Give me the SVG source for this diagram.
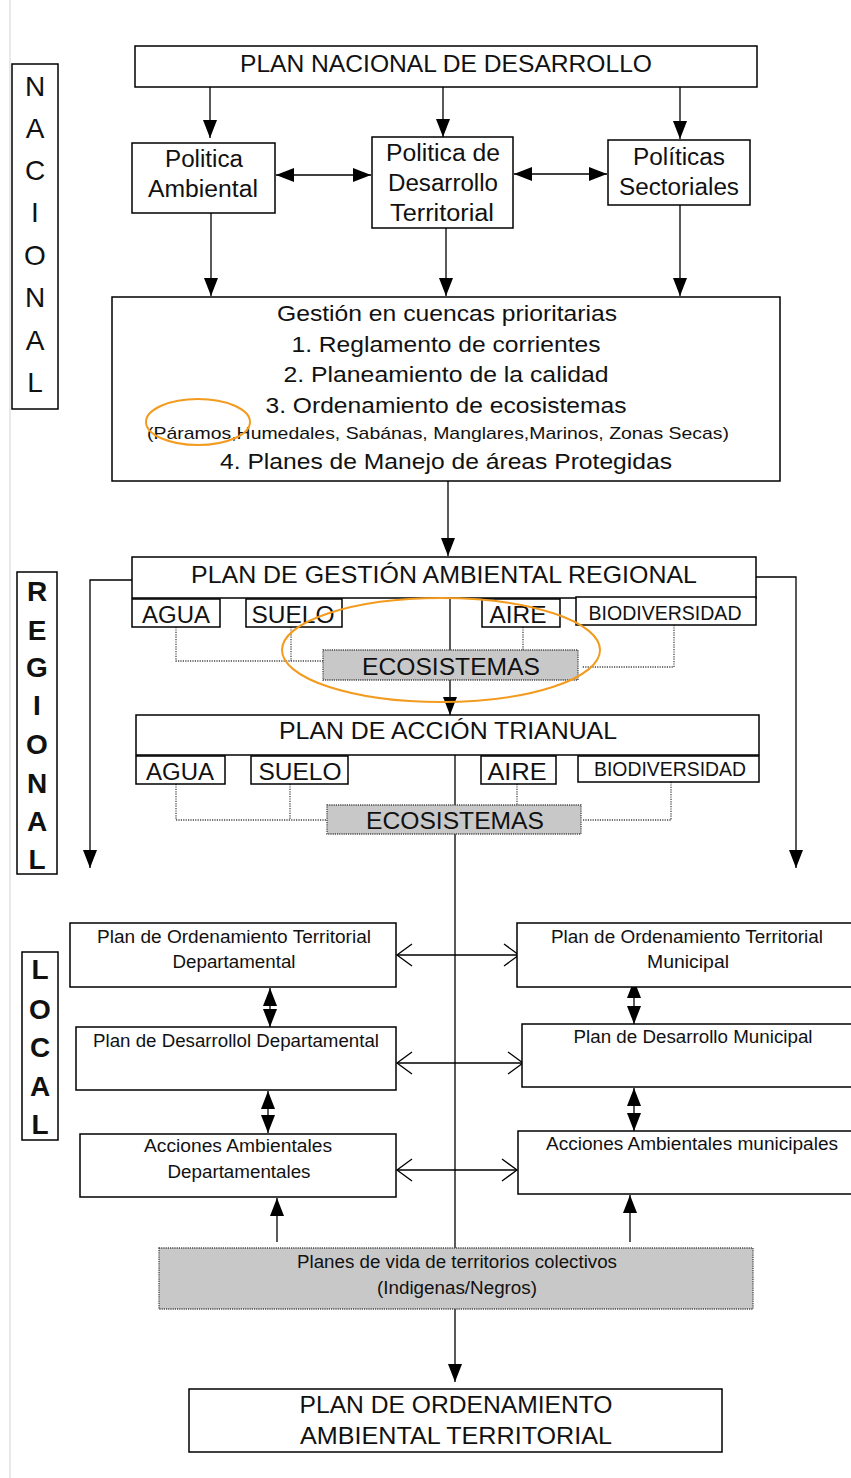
<svg xmlns="http://www.w3.org/2000/svg" width="851" height="1478" viewBox="0 0 851 1478">
<style>
.box{fill:#fff;stroke:#000;stroke-width:1.5}
.gbox{fill:#c8c8c8;stroke:#444;stroke-width:1.3;stroke-dasharray:1.2 1}
.t{font-family:"Liberation Sans",Arial,sans-serif;fill:#111;text-anchor:middle}
.lb{font-family:"Liberation Sans",Arial,sans-serif;fill:#111;text-anchor:middle;font-size:28px}
.bold{font-weight:bold}
.ln{stroke:#000;stroke-width:1.3;fill:none}
.dot{stroke:#444;stroke-width:1.3;fill:none;stroke-dasharray:1.2 1.2}
.orange{fill:none;stroke:#f39b1f;stroke-width:2}
</style>
<defs>
<marker id="ah" markerUnits="userSpaceOnUse" markerWidth="20" markerHeight="20" viewBox="0 0 20 20" refX="18" refY="10" orient="auto-start-reverse">
<path d="M0,3 L18,10 L0,17 Z" fill="#000"/>
</marker>
<marker id="oa" markerUnits="userSpaceOnUse" markerWidth="20" markerHeight="24" viewBox="0 0 20 24" refX="17" refY="12" orient="auto-start-reverse">
<path d="M2,1 L17,12 L2,23" fill="none" stroke="#000" stroke-width="1.3"/>
</marker>
</defs>
<rect width="851" height="1478" fill="#fff"/>
<line x1="10" y1="0" x2="10" y2="1478" stroke="#e2e2e2" stroke-width="1.5"/>

<g id="connectors">
<line class="ln" x1="210" y1="87" x2="210" y2="138" marker-end="url(#ah)"/>
<line class="ln" x1="443" y1="87" x2="443" y2="137" marker-end="url(#ah)"/>
<line class="ln" x1="680" y1="87" x2="680" y2="139" marker-end="url(#ah)"/>
<line class="ln" x1="276" y1="175" x2="371" y2="175" marker-start="url(#ah)" marker-end="url(#ah)"/>
<line class="ln" x1="514" y1="174" x2="607" y2="174" marker-start="url(#ah)" marker-end="url(#ah)"/>
<line class="ln" x1="211" y1="213" x2="211" y2="296" marker-end="url(#ah)"/>
<line class="ln" x1="446" y1="228" x2="446" y2="296" marker-end="url(#ah)"/>
<line class="ln" x1="680" y1="205" x2="680" y2="296" marker-end="url(#ah)"/>
<line class="ln" x1="448" y1="481" x2="448" y2="556" marker-end="url(#ah)"/>
<polyline class="ln" points="132,580 90,580 90,868" marker-end="url(#ah)"/>
<polyline class="ln" points="756,577 796,577 796,868" marker-end="url(#ah)"/>
<line class="ln" x1="450" y1="598" x2="450" y2="715" marker-end="url(#ah)"/>
<polyline class="dot" points="176,627 176,661 323,661"/>
<polyline class="dot" points="291,627 291,661"/>
<line class="dot" x1="523" y1="627" x2="523" y2="650"/>
<polyline class="dot" points="674,625 674,667 582,667"/>
<line class="ln" x1="455" y1="755" x2="455" y2="1248"/>
<polyline class="dot" points="176,784 176,820 327,820"/>
<polyline class="dot" points="290,784 290,820"/>
<line class="dot" x1="517" y1="784" x2="517" y2="805"/>
<polyline class="dot" points="671,782 671,820 582,820"/>
<line class="ln" x1="397" y1="955" x2="519" y2="955" marker-start="url(#oa)" marker-end="url(#oa)"/>
<line class="ln" x1="397" y1="1063" x2="523" y2="1063" marker-start="url(#oa)" marker-end="url(#oa)"/>
<line class="ln" x1="397" y1="1170" x2="517" y2="1170" marker-start="url(#oa)" marker-end="url(#oa)"/>
<line class="ln" x1="270" y1="988" x2="270" y2="1027" marker-start="url(#ah)" marker-end="url(#ah)"/>
<line class="ln" x1="268" y1="1091" x2="268" y2="1133" marker-start="url(#ah)" marker-end="url(#ah)"/>
<line class="ln" x1="634" y1="980" x2="634" y2="1024" marker-start="url(#ah)" marker-end="url(#ah)"/>
<line class="ln" x1="634" y1="1088" x2="634" y2="1131" marker-start="url(#ah)" marker-end="url(#ah)"/>
<line class="ln" x1="277" y1="1242" x2="277" y2="1198" marker-end="url(#ah)"/>
<line class="ln" x1="630" y1="1242" x2="630" y2="1195" marker-end="url(#ah)"/>
<line class="ln" x1="455" y1="1309" x2="455" y2="1382" marker-end="url(#ah)"/>
</g>

<g id="nacional-label">
<rect class="box" x="12" y="64" width="46" height="345"/>
<text class="lb" x="35" y="96">N</text>
<text class="lb" x="35" y="138">A</text>
<text class="lb" x="35" y="180">C</text>
<text class="lb" x="35" y="222">I</text>
<text class="lb" x="35" y="265">O</text>
<text class="lb" x="35" y="307">N</text>
<text class="lb" x="35" y="350">A</text>
<text class="lb" x="35" y="392">L</text>
</g>

<g id="plan-nacional">
<rect class="box" x="135" y="46" width="622" height="41"/>
<text class="t" x="446" y="72" font-size="24" textLength="412" lengthAdjust="spacingAndGlyphs">PLAN NACIONAL DE DESARROLLO</text>
</g>
<g id="politica-ambiental">
<rect class="box" x="132" y="143" width="143" height="70"/>
<text class="t" x="204" y="167" font-size="23" textLength="78" lengthAdjust="spacingAndGlyphs">Politica</text>
<text class="t" x="203" y="197" font-size="23" textLength="110" lengthAdjust="spacingAndGlyphs">Ambiental</text>
</g>
<g id="politica-desarrollo">
<rect class="box" x="372" y="137" width="141" height="91"/>
<text class="t" x="443" y="161" font-size="23" textLength="114" lengthAdjust="spacingAndGlyphs">Politica de</text>
<text class="t" x="443" y="191" font-size="23" textLength="110" lengthAdjust="spacingAndGlyphs">Desarrollo</text>
<text class="t" x="442" y="221" font-size="23" textLength="104" lengthAdjust="spacingAndGlyphs">Territorial</text>
</g>
<g id="politicas-sectoriales">
<rect class="box" x="608" y="140" width="142" height="65"/>
<text class="t" x="679" y="165" font-size="23" textLength="92" lengthAdjust="spacingAndGlyphs">Políticas</text>
<text class="t" x="679" y="195" font-size="23" textLength="120" lengthAdjust="spacingAndGlyphs">Sectoriales</text>
</g>
<g id="gestion-cuencas">
<rect class="box" x="112" y="297" width="668" height="184"/>
<text class="t" x="447" y="321" font-size="22" textLength="340" lengthAdjust="spacingAndGlyphs">Gestión en cuencas prioritarias</text>
<text class="t" x="446" y="352" font-size="22" textLength="309" lengthAdjust="spacingAndGlyphs">1. Reglamento de corrientes</text>
<text class="t" x="446" y="382" font-size="22" textLength="325" lengthAdjust="spacingAndGlyphs">2. Planeamiento de la calidad</text>
<text class="t" x="446" y="413" font-size="22" textLength="361" lengthAdjust="spacingAndGlyphs">3. Ordenamiento de ecosistemas</text>
<text class="t" x="438" y="439" font-size="17" textLength="582" lengthAdjust="spacingAndGlyphs">(Páramos,Humedales, Sabánas, Manglares,Marinos, Zonas Secas)</text>
<text class="t" x="446" y="469" font-size="22" textLength="452" lengthAdjust="spacingAndGlyphs">4. Planes de Manejo de áreas Protegidas</text>
<ellipse class="orange" cx="198" cy="422" rx="52" ry="23"/>
</g>

<g id="regional-label">
<rect class="box" x="17" y="572" width="40" height="302"/>
<text class="lb bold" x="37" y="601" font-size="26">R</text>
<text class="lb bold" x="37" y="640" font-size="26">E</text>
<text class="lb bold" x="37" y="677" font-size="26">G</text>
<text class="lb bold" x="37" y="715" font-size="26">I</text>
<text class="lb bold" x="37" y="754" font-size="26">O</text>
<text class="lb bold" x="37" y="793" font-size="26">N</text>
<text class="lb bold" x="37" y="831" font-size="26">A</text>
<text class="lb bold" x="37" y="869" font-size="26">L</text>
</g>

<g id="pgar">
<rect class="box" x="132" y="557" width="624" height="41"/>
<text class="t" x="444" y="583" font-size="24" textLength="506" lengthAdjust="spacingAndGlyphs">PLAN DE GESTIÓN AMBIENTAL REGIONAL</text>
<rect class="box" x="132" y="599" width="88" height="28"/>
<text class="t" x="176" y="623" font-size="23" textLength="68" lengthAdjust="spacingAndGlyphs">AGUA</text>
<rect class="box" x="246" y="599" width="96" height="28"/>
<text class="t" x="293" y="623" font-size="23" textLength="83" lengthAdjust="spacingAndGlyphs">SUELO</text>
<rect class="box" x="482" y="599" width="78" height="28"/>
<text class="t" x="518" y="623" font-size="23" textLength="57" lengthAdjust="spacingAndGlyphs">AIRE</text>
<rect class="box" x="576" y="597" width="180" height="28"/>
<text class="t" x="665" y="620" font-size="21" textLength="153" lengthAdjust="spacingAndGlyphs">BIODIVERSIDAD</text>
</g>
<g id="ecosistemas-1">
<rect class="gbox" x="323" y="650" width="255" height="30"/>
<text class="t" x="451" y="675" font-size="24" textLength="178" lengthAdjust="spacingAndGlyphs">ECOSISTEMAS</text>
</g>
<ellipse class="orange" cx="441" cy="650" rx="159" ry="52"/>

<g id="pat">
<rect class="box" x="136" y="715" width="623" height="40"/>
<text class="t" x="448" y="739" font-size="24" textLength="338" lengthAdjust="spacingAndGlyphs">PLAN DE ACCIÓN TRIANUAL</text>
<rect class="box" x="136" y="756" width="89" height="28"/>
<text class="t" x="180" y="780" font-size="23" textLength="68" lengthAdjust="spacingAndGlyphs">AGUA</text>
<rect class="box" x="251" y="756" width="97" height="28"/>
<text class="t" x="300" y="780" font-size="23" textLength="83" lengthAdjust="spacingAndGlyphs">SUELO</text>
<rect class="box" x="481" y="756" width="75" height="28"/>
<text class="t" x="517" y="780" font-size="23" textLength="59" lengthAdjust="spacingAndGlyphs">AIRE</text>
<rect class="box" x="578" y="756" width="181" height="26"/>
<text class="t" x="670" y="776" font-size="20" textLength="152" lengthAdjust="spacingAndGlyphs">BIODIVERSIDAD</text>
</g>
<g id="ecosistemas-2">
<rect class="gbox" x="327" y="805" width="254" height="29"/>
<text class="t" x="455" y="829" font-size="23" textLength="178" lengthAdjust="spacingAndGlyphs">ECOSISTEMAS</text>
</g>

<g id="local-label">
<rect class="box" x="22" y="952" width="36" height="188"/>
<text class="lb bold" x="40" y="979" font-size="26">L</text>
<text class="lb bold" x="40" y="1019" font-size="26">O</text>
<text class="lb bold" x="40" y="1057" font-size="26">C</text>
<text class="lb bold" x="40" y="1096" font-size="26">A</text>
<text class="lb bold" x="40" y="1134" font-size="26">L</text>
</g>

<g id="pot-departamental">
<rect class="box" x="70" y="923" width="326" height="64"/>
<text class="t" x="234" y="943" font-size="17.5" textLength="274" lengthAdjust="spacingAndGlyphs">Plan de Ordenamiento Territorial</text>
<text class="t" x="234" y="968" font-size="17.5" textLength="123" lengthAdjust="spacingAndGlyphs">Departamental</text>
</g>
<g id="pd-departamental">
<rect class="box" x="76" y="1027" width="320" height="63"/>
<text class="t" x="236" y="1047" font-size="17.5" textLength="286" lengthAdjust="spacingAndGlyphs">Plan de Desarrollol Departamental</text>
</g>
<g id="acciones-departamentales">
<rect class="box" x="80" y="1134" width="316" height="63"/>
<text class="t" x="238" y="1152" font-size="17.5" textLength="188" lengthAdjust="spacingAndGlyphs">Acciones Ambientales</text>
<text class="t" x="239" y="1178" font-size="17.5" textLength="143" lengthAdjust="spacingAndGlyphs">Departamentales</text>
</g>
<g id="pot-municipal">
<rect class="box" x="517" y="923" width="340" height="64"/>
<text class="t" x="687" y="943" font-size="17.5" textLength="272" lengthAdjust="spacingAndGlyphs">Plan de Ordenamiento Territorial</text>
<text class="t" x="688" y="968" font-size="17.5" textLength="82" lengthAdjust="spacingAndGlyphs">Municipal</text>
</g>
<g id="pd-municipal">
<rect class="box" x="522" y="1024" width="335" height="63"/>
<text class="t" x="693" y="1043" font-size="17.5" textLength="239" lengthAdjust="spacingAndGlyphs">Plan de Desarrollo Municipal</text>
</g>
<g id="acciones-municipales">
<rect class="box" x="518" y="1131" width="339" height="63"/>
<text class="t" x="692" y="1150" font-size="17.5" textLength="292" lengthAdjust="spacingAndGlyphs">Acciones Ambientales municipales</text>
</g>
<g id="planes-vida">
<rect class="gbox" x="159" y="1248" width="594" height="61"/>
<text class="t" x="457" y="1268" font-size="17.5" textLength="320" lengthAdjust="spacingAndGlyphs">Planes de vida de territorios colectivos</text>
<text class="t" x="457" y="1294" font-size="17.5" textLength="160" lengthAdjust="spacingAndGlyphs">(Indigenas/Negros)</text>
</g>
<g id="poat">
<rect class="box" x="189" y="1389" width="533" height="63"/>
<text class="t" x="456" y="1413" font-size="23" textLength="313" lengthAdjust="spacingAndGlyphs">PLAN DE ORDENAMIENTO</text>
<text class="t" x="456" y="1444" font-size="23" textLength="312" lengthAdjust="spacingAndGlyphs">AMBIENTAL TERRITORIAL</text>
</g>
</svg>
